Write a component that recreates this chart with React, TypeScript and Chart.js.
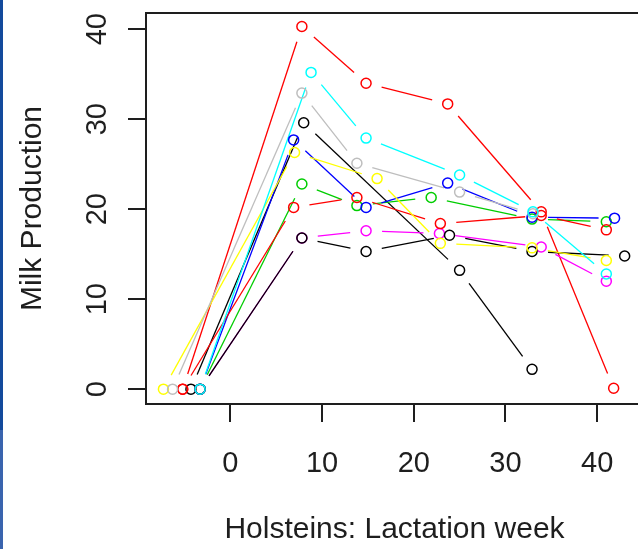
import React, { useEffect, useRef } from "react";
import { Chart, registerables } from "chart.js";

Chart.register(...registerables);

// ---- tick labels ----
const xTicks = [0, 10, 20, 30, 40];
const yTicks = [0, 10, 20, 30, 40];

// ---- series (lactation week, milk production) ----
const blackAWeeks = [-4.3, 8.0, 25.0, 32.9];
const blackAMilk = [0, 29.6, 13.2, 2.2];

const redAWeeks = [-5.2, 7.8, 14.8, 23.7, 33.9, 41.8];
const redAMilk = [0, 40.3, 34.0, 31.7, 19.7, 0.1];

const greenWeeks = [-3.3, 7.8, 13.8, 21.9, 32.9, 41.0];
const greenMilk = [0, 22.8, 20.4, 21.3, 18.9, 18.6];

const blueWeeks = [-3.3, 6.9, 14.8, 23.7, 32.9, 41.9];
const blueMilk = [0, 27.7, 20.2, 22.9, 19.1, 19.0];

const magentaWeeks = [-3.3, 7.8, 14.8, 22.8, 33.9, 41.0];
const magentaMilk = [0, 16.8, 17.6, 17.3, 15.8, 12.0];

const blackBWeeks = [-3.3, 7.8, 14.8, 23.9, 32.9, 43.0];
const blackBMilk = [0, 16.8, 15.3, 17.1, 15.3, 14.8];

const redBWeeks = [-5.2, 6.9, 13.8, 22.9, 33.9, 41.0];
const redBMilk = [0, 20.2, 21.3, 18.4, 19.3, 17.7];

const yellowWeeks = [-7.3, 7.0, 16.0, 22.9, 32.9, 41.0];
const yellowMilk = [0, 26.3, 23.4, 16.2, 15.7, 14.3];

const grayWeeks = [-6.3, 7.8, 13.8, 25.0, 33.0];
const grayMilk = [0, 32.9, 25.1, 21.9, 19.5];

const cyanWeeks = [-3.3, 8.8, 14.8, 25.0, 33.0, 41.0];
const cyanMilk = [0, 35.2, 27.9, 23.8, 19.7, 12.8];

// listed in painting order (first = bottom, last = top)
const seriesLabels = ["cow1", "cow2", "cow3", "cow4", "cow5", "cow6", "cow7", "cow8", "cow9", "cow10"];
const seriesColors = [
  "#000000",
  "#FF0000",
  "#00CD00",
  "#0000FF",
  "#FF00FF",
  "#000000",
  "#FF0000",
  "#FFFF00",
  "#BEBEBE",
  "#00FFFF",
];
const seriesWeeks = [blackAWeeks, redAWeeks, greenWeeks, blueWeeks, magentaWeeks, blackBWeeks, redBWeeks, yellowWeeks, grayWeeks, cyanWeeks];
const seriesMilk = [blackAMilk, redAMilk, greenMilk, blueMilk, magentaMilk, blackBMilk, redBMilk, yellowMilk, grayMilk, cyanMilk];

const FONT = "'Liberation Sans', Arial, Helvetica, sans-serif";
const INK = "#1e1e1e";
const GAP = 16;

const gapLines = {
  id: "gapLines",
  beforeDatasetsDraw(chart: any) {
    const ctx = chart.ctx;
    const a = chart.chartArea;
    ctx.save();
    ctx.beginPath();
    ctx.rect(a.left, a.top, a.right - a.left, a.bottom - a.top);
    ctx.clip();
    const n = chart.data.datasets.length;
    // paint lines bottom-to-top in the same order as the markers
    for (let di = n - 1; di >= 0; di--) {
      const ds: any = chart.data.datasets[di];
      const pts = chart.getDatasetMeta(di).data;
      ctx.strokeStyle = ds.borderColor;
      ctx.lineWidth = 1.3;
      for (let i = 0; i < pts.length - 1; i++) {
        const p0 = pts[i];
        const p1 = pts[i + 1];
        const dx = p1.x - p0.x;
        const dy = p1.y - p0.y;
        const len = Math.hypot(dx, dy);
        if (len <= 2 * GAP) continue;
        const ux = dx / len;
        const uy = dy / len;
        ctx.beginPath();
        ctx.moveTo(p0.x + ux * GAP, p0.y + uy * GAP);
        ctx.lineTo(p1.x - ux * GAP, p1.y - uy * GAP);
        ctx.stroke();
      }
    }
    ctx.restore();
  },
};

const boxPlugin = {
  id: "boxPlugin",
  afterDraw(chart: any) {
    const ctx = chart.ctx;
    const a = chart.chartArea;
    ctx.save();
    ctx.strokeStyle = INK;
    ctx.lineWidth = 2;
    ctx.strokeRect(a.left, a.top, a.right - a.left, a.bottom - a.top);
    ctx.restore();
  },
};

export default function App() {
  const ref = useRef<HTMLCanvasElement>(null);

  useEffect(() => {
    if (!ref.current) return;
    // Chart.js paints dataset 0 on top, so reverse the painting order
    const datasets = seriesLabels
      .map((label, i) => ({
        label,
        data: seriesWeeks[i].map((w, j) => ({ x: w, y: seriesMilk[i][j] })),
        borderColor: seriesColors[i],
        pointBorderColor: seriesColors[i],
        pointBackgroundColor: "rgba(0,0,0,0)",
        pointRadius: 5,
        pointHoverRadius: 5,
        pointBorderWidth: 1.5,
        showLine: false,
      }))
      .reverse();

    const chart = new Chart(ref.current, {
      type: "scatter",
      data: { datasets },
      plugins: [gapLines, boxPlugin],
      options: {
        responsive: false,
        animation: false,
        devicePixelRatio: 1,
        layout: { padding: { top: 13, right: 17, left: 0, bottom: 0 } },
        plugins: { legend: { display: false }, tooltip: { enabled: false } },
        scales: {
          x: {
            type: "linear",
            min: -9.2,
            max: 45,
            afterBuildTicks: (s: any) => {
              s.ticks = xTicks.map((v) => ({ value: v }));
            },
            afterFit: (s: any) => {
              s.height = 145;
              s.paddingLeft = 0;
              s.paddingRight = 0;
            },
            grid: { drawOnChartArea: false, drawTicks: true, tickLength: 18, lineWidth: 2, color: INK },
            border: { display: false },
            ticks: { font: { family: FONT, size: 29 }, color: INK, padding: 25, autoSkip: false, minRotation: 0, maxRotation: 0 },
            title: {
              display: true,
              text: "Holsteins: Lactation week",
              font: { family: FONT, size: 30 },
              color: INK,
              padding: { top: 0, bottom: 1 },
            },
          },
          y: {
            type: "linear",
            min: -1.65,
            max: 41.8,
            afterBuildTicks: (s: any) => {
              s.ticks = yTicks.map((v) => ({ value: v }));
            },
            afterFit: (s: any) => {
              s.width = 146;
              s.paddingTop = 0;
              s.paddingBottom = 0;
            },
            grid: { drawOnChartArea: false, drawTicks: true, tickLength: 18, lineWidth: 2, color: INK },
            border: { display: false },
            ticks: {
              font: { family: FONT, size: 29 },
              color: INK,
              padding: 14,
              autoSkip: false,
              minRotation: 90,
              maxRotation: 90,
              crossAlign: "center",
            },
            title: {
              display: true,
              text: "Milk Production",
              font: { family: FONT, size: 30 },
              color: INK,
              padding: { top: 15, bottom: 0 },
            },
          },
        },
      } as any,
    });
    return () => chart.destroy();
  }, []);

  return (
    <div style={{ position: "fixed", left: 0, top: 0, width: 638, height: 549, overflow: "hidden", background: "#fff" }}>
      <canvas ref={ref} width={660} height={549} style={{ display: "block" }} />
      <div
        style={{
          position: "absolute",
          left: 0,
          top: 0,
          width: 3,
          height: 549,
          background: "linear-gradient(#134a9c 0px, #134a9c 430px, #3a64ae 430px, #3a64ae 549px)",
        }}
      />
    </div>
  );
}
